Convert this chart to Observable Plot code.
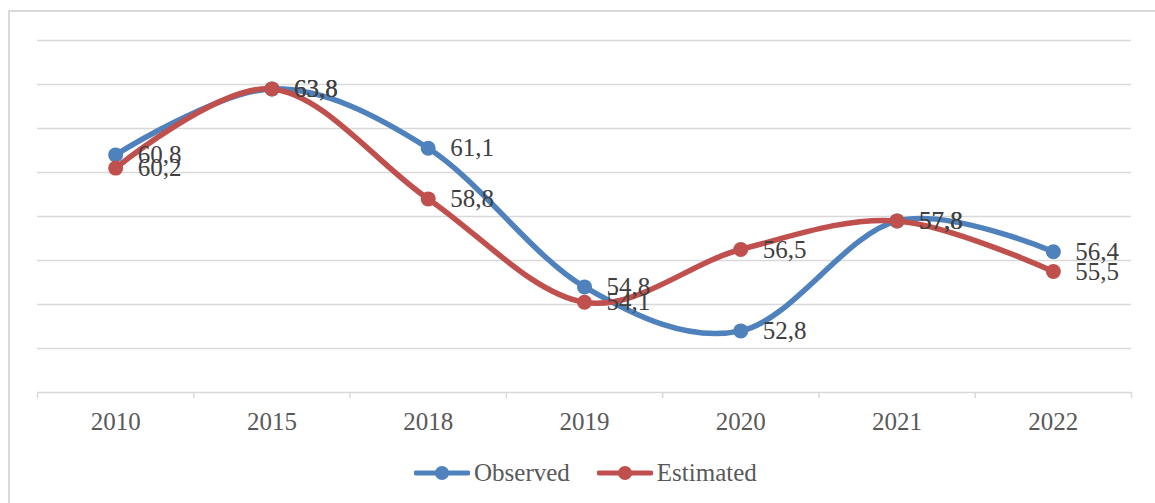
<!DOCTYPE html>
<html>
<head>
<meta charset="utf-8">
<script src="https://cdn.jsdelivr.net/npm/d3@7"></script>
<script src="https://cdn.jsdelivr.net/npm/@observablehq/plot@0.6"></script>
<style>
  html, body { margin: 0; padding: 0; background: #fff; width: 1155px; height: 503px; overflow: hidden; }
  #frame { position: absolute; left: 8px; top: 10px; width: 1160px; height: 510px; border: 2px solid #d9d9d9; box-sizing: border-box; pointer-events: none; }
  #chart { position: absolute; left: 0; top: 0; }
  #legend { position: absolute; left: 414px; top: 460px; height: 26px; display: flex; align-items: center; font-family: "Liberation Serif", serif; font-size: 25px; color: #595959; }
  .item { display: flex; align-items: center; margin-right: 27px; }
  .item svg { margin-right: 4px; }
</style>
</head>
<body>
<div id="chart"></div>
<div id="legend"></div>
<div id="frame"></div>
<script>
const years = ["2010", "2015", "2018", "2019", "2020", "2021", "2022"];
const observed = [60.8, 63.8, 61.1, 54.8, 52.8, 57.8, 56.4];
const estimated = [60.2, 63.8, 58.8, 54.1, 56.5, 57.8, 55.5];
const seriesNames = ["Observed", "Estimated"];
const seriesColors = ["#4F81BD", "#C0504D"];
const gridValues = [52, 54, 56, 58, 60, 62, 64, 66];

const seriesValues = [observed, estimated];
const data = [];
seriesNames.forEach((name, s) => {
  seriesValues[s].forEach((v, i) => data.push({series: name, i: i + 0.5, value: v}));
});
const fmt = v => v.toFixed(1).replace(".", ",");

const plot = Plot.plot({
  width: 1155,
  height: 450,
  marginLeft: 37,
  marginRight: 24,
  marginTop: 40,
  marginBottom: 58,
  style: { fontFamily: "Liberation Serif, serif", fontSize: "25px", background: "transparent" },
  x: { type: "linear", domain: [0, years.length], axis: null },
  y: { domain: [50, 66], axis: null },
  color: { domain: seriesNames, range: seriesColors },
  marks: [
    Plot.ruleY(gridValues, { stroke: "#d9d9d9", strokeWidth: 1.5 }),
    Plot.ruleY([50], { stroke: "#d9d9d9", strokeWidth: 1.5 }),
    Plot.axisX(d3.range(years.length + 1), { tickSize: 6, stroke: "#d9d9d9", strokeWidth: 1.5, tickFormat: () => "", label: null }),
    Plot.axisX(d3.range(years.length).map(i => i + 0.5), { tickSize: 0, tickPadding: 20, fill: "#595959", fontSize: 25, tickFormat: d => years[d - 0.5], label: null }),
    Plot.line(data, { x: "i", y: "value", z: "series", stroke: "series", strokeWidth: 5.5, curve: "cardinal", tension: 0 }),
    Plot.dot(data, { x: "i", y: "value", fill: "series", r: 7.5 }),
    Plot.text(data, { x: "i", y: "value", text: d => fmt(d.value), textAnchor: "start", dx: 22, fill: "#404040", fontSize: 25 })
  ]
});
document.getElementById("chart").appendChild(plot);

const legend = document.getElementById("legend");
seriesNames.forEach((name, s) => {
  const item = document.createElement("div");
  item.className = "item";
  item.innerHTML = `<svg width="56" height="20"><line x1="2" y1="10" x2="54" y2="10" stroke="${seriesColors[s]}" stroke-width="5" stroke-linecap="round"/><circle cx="28" cy="10" r="7" fill="${seriesColors[s]}"/></svg><span>${name}</span>`;
  legend.appendChild(item);
});
</script>
</body>
</html>
